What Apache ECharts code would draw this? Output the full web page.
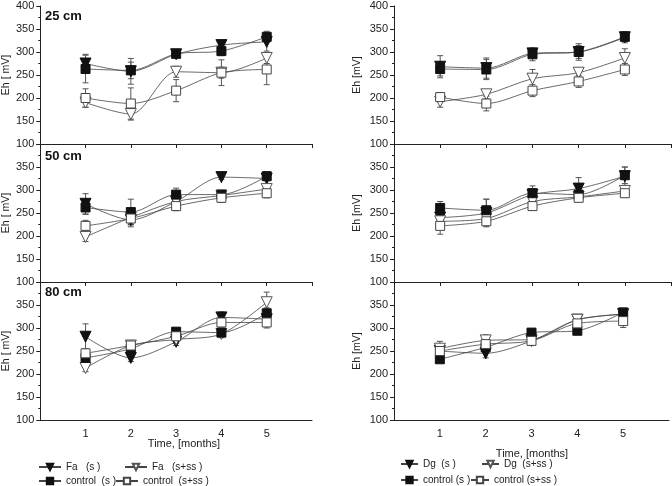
<!DOCTYPE html>
<html><head><meta charset="utf-8">
<script src="https://cdn.jsdelivr.net/npm/echarts@6/dist/echarts.min.js"></script>
<style>html,body{margin:0;padding:0;background:#fff}#c{width:672px;height:486px}</style>
</head><body><div id="c"></div>
<script>
// ---- data ----
const months = [1, 2, 3, 4, 5];
const xTickLabels = ['1', '2', '3', '4', '5'];
const yTickValues = [100, 150, 200, 250, 300, 350, 400];
const depthLabels = ['25 cm', '50 cm', '80 cm'];

// Fa column, 25 cm
const faS25 = [275, 258, 295, 315, 322];
const faS25Err = [20, 28, 6, 8, 20];
const ctrlS25 = [263, 260, 296, 302, 333];
const ctrlS25Err = [30, 18, 8, 10, 12];
const faSS25 = [190, 165, 257, 255, 287];
const faSS25Err = [10, 13, 12, 12, 12];
const ctrlSS25 = [200, 188, 216, 255, 262];
const ctrlSS25Err = [20, 34, 24, 28, 33];
// Dg column, 25 cm
const dgS25 = [268, 265, 297, 300, 332];
const dgS25Err = [24, 22, 8, 18, 12];
const ctrlS25R = [263, 262, 295, 300, 333];
const ctrlS25RErr = [15, 22, 14, 14, 10];
const dgSS25 = [192, 208, 242, 255, 287];
const dgSS25Err = [12, 10, 20, 10, 20];
const ctrlSS25R = [202, 188, 216, 236, 262];
const ctrlSS25RErr = [10, 16, 13, 13, 13];
// Fa column, 50 cm
const faS50 = [270, 235, 275, 328, 325];
const faS50Err = [22, 10, 10, 5, 12];
const ctrlS50 = [262, 252, 290, 290, 330];
const ctrlS50Err = [15, 28, 14, 8, 10];
const faSS50 = [198, 240, 275, 288, 302];
const faSS50Err = [10, 20, 8, 8, 8];
const ctrlSS50 = [222, 238, 265, 283, 293];
const ctrlSS50Err = [12, 12, 10, 10, 10];
// Dg column, 50 cm
const dgS50 = [240, 250, 290, 303, 330];
const dgS50Err = [20, 30, 12, 24, 20];
const ctrlS50R = [261, 256, 293, 290, 332];
const ctrlS50RErr = [14, 24, 16, 10, 18];
const dgSS50 = [232, 238, 275, 285, 298];
const dgSS50Err = [12, 14, 10, 8, 8];
const ctrlSS50R = [222, 232, 265, 283, 293];
const ctrlSS50RErr = [18, 10, 8, 8, 8];
// Fa column, 80 cm
const faS80 = [281, 235, 270, 323, 319];
const faS80Err = [28, 8, 8, 12, 12];
const ctrlS80 = [235, 255, 292, 290, 332];
const ctrlS80Err = [14, 10, 8, 8, 12];
const faSS80 = [213, 262, 275, 287, 356];
const faSS80Err = [8, 8, 8, 8, 22];
const ctrlSS80 = [245, 262, 282, 312, 312];
const ctrlSS80Err = [10, 8, 8, 10, 12];
// Dg column, 80 cm
const dgS80 = [250, 245, 272, 318, 330];
const dgS80Err = [14, 10, 10, 10, 10];
const ctrlS80R = [232, 258, 290, 294, 334];
const ctrlS80RErr = [6, 10, 8, 8, 8];
const dgSS80 = [255, 273, 275, 318, 330];
const dgSS80Err = [16, 12, 8, 10, 8];
const ctrlSS80R = [250, 265, 272, 310, 315];
const ctrlSS80RErr = [10, 10, 8, 8, 14];

// ---- layout / styles ----
const FONT = 'Liberation Sans, Arial, sans-serif';
const colLeft = [38, 394], colWidth = [274, 277];
const rowTop = [6, 144, 282], rowH = 138;

const styles = {
  fTri: {symbol: 'triangle', symbolRotate: 180, symbolSize: 11, itemStyle: {color: '#111', borderColor: '#111', borderWidth: 1}},
  oTri: {symbol: 'triangle', symbolRotate: 180, symbolSize: 11, itemStyle: {color: '#fff', borderColor: '#555', borderWidth: 1}},
  fSq: {symbol: 'rect', symbolSize: 9, itemStyle: {color: '#111', borderColor: '#111', borderWidth: 1}},
  oSq: {symbol: 'rect', symbolSize: 9, itemStyle: {color: '#fff', borderColor: '#444', borderWidth: 1}}
};

const panels = [
  {col: 0, row: 0, s: [['Fa (s)', faS25, faS25Err, 'fTri'], ['Fa (s+ss)', faSS25, faSS25Err, 'oTri'], ['control (s)', ctrlS25, ctrlS25Err, 'fSq'], ['control (s+ss)', ctrlSS25, ctrlSS25Err, 'oSq']]},
  {col: 0, row: 1, s: [['Fa (s)', faS50, faS50Err, 'fTri'], ['Fa (s+ss)', faSS50, faSS50Err, 'oTri'], ['control (s)', ctrlS50, ctrlS50Err, 'fSq'], ['control (s+ss)', ctrlSS50, ctrlSS50Err, 'oSq']]},
  {col: 0, row: 2, s: [['Fa (s)', faS80, faS80Err, 'fTri'], ['Fa (s+ss)', faSS80, faSS80Err, 'oTri'], ['control (s)', ctrlS80, ctrlS80Err, 'fSq'], ['control (s+ss)', ctrlSS80, ctrlSS80Err, 'oSq']]},
  {col: 1, row: 0, s: [['Dg (s)', dgS25, dgS25Err, 'fTri'], ['Dg (s+ss)', dgSS25, dgSS25Err, 'oTri'], ['control (s)', ctrlS25R, ctrlS25RErr, 'fSq'], ['control (s+ss)', ctrlSS25R, ctrlSS25RErr, 'oSq']]},
  {col: 1, row: 1, s: [['Dg (s)', dgS50, dgS50Err, 'fTri'], ['Dg (s+ss)', dgSS50, dgSS50Err, 'oTri'], ['control (s)', ctrlS50R, ctrlS50RErr, 'fSq'], ['control (s+ss)', ctrlSS50R, ctrlSS50RErr, 'oSq']]},
  {col: 1, row: 2, s: [['Dg (s)', dgS80, dgS80Err, 'fTri'], ['Dg (s+ss)', dgSS80, dgSS80Err, 'oTri'], ['control (s)', ctrlS80R, ctrlS80RErr, 'fSq'], ['control (s+ss)', ctrlSS80R, ctrlSS80RErr, 'oSq']]}
];

const grid = [], xAxis = [], yAxis = [], series = [];
panels.forEach((p, i) => {
  grid.push({left: colLeft[p.col], width: colWidth[p.col], top: rowTop[p.row], height: rowH});
  const bottomRow = p.row === 2;
  xAxis.push({
    type: 'value', gridIndex: i, min: 0, max: 6, interval: 1,
    axisLine: {show: true, onZero: false, lineStyle: {color: '#222', width: 1}},
    axisTick: {show: !bottomRow, inside: false, length: 4, lineStyle: {color: '#222'}},
    splitLine: {show: false},
    axisLabel: {show: bottomRow, margin: 8, fontSize: 11, color: '#222', fontFamily: FONT,
      formatter: v => (v >= 1 && v <= 5) ? xTickLabels[v - 1] : ''}
  });
  yAxis.push({
    type: 'value', gridIndex: i, min: yTickValues[0], max: yTickValues[yTickValues.length - 1], interval: 50,
    name: p.col === 0 ? 'Eh [ mV]' : 'Eh [mV]', nameLocation: 'middle', nameGap: p.col === 0 ? 27 : 31,
    nameTextStyle: {fontSize: 10.5, color: '#222', fontFamily: FONT},
    axisLine: {show: true, lineStyle: {color: '#222', width: 1}},
    axisTick: {show: true, length: 4, lineStyle: {color: '#222'}},
    minorTick: {show: true, splitNumber: 2, length: 2, lineStyle: {color: '#222'}},
    splitLine: {show: false},
    axisLabel: {margin: 6, fontSize: 11, color: '#222', fontFamily: FONT, showMaxLabel: p.row === 0}
  });
  // error bars
  const bars = [];
  p.s.forEach(sr => sr[1].forEach((v, k) => bars.push([months[k], v - sr[2][k], v + sr[2][k]])));
  series.push({
    type: 'custom', xAxisIndex: i, yAxisIndex: i, z: 1, silent: true, data: bars,
    renderItem: (params, api) => {
      const x = api.value(0);
      const lo = api.coord([x, api.value(1)]);
      const hi = api.coord([x, api.value(2)]);
      const st = {stroke: '#555', lineWidth: 1};
      return {type: 'group', children: [
        {type: 'line', shape: {x1: lo[0], y1: lo[1], x2: hi[0], y2: hi[1]}, style: st},
        {type: 'line', shape: {x1: lo[0] - 3, y1: lo[1], x2: lo[0] + 3, y2: lo[1]}, style: st},
        {type: 'line', shape: {x1: hi[0] - 3, y1: hi[1], x2: hi[0] + 3, y2: hi[1]}, style: st}
      ]};
    }
  });
  p.s.forEach(sr => {
    const st = styles[sr[3]];
    series.push(Object.assign({
      type: 'line', name: sr[0], xAxisIndex: i, yAxisIndex: i, z: 3,
      smooth: 0.3, showAllSymbol: true,
      data: sr[1].map((v, k) => [months[k], v]),
      lineStyle: {color: '#444', width: 0.8},
      emphasis: {disabled: true}
    }, JSON.parse(JSON.stringify(st))));
  });
});

// legends: [series name, shown text, left, top, icon width]
const legendDefs = [
  ['Fa (s)', 'Fa   (s )', 38, 462, 22],
  ['Fa (s+ss)', 'Fa   (s+ss )', 124, 462, 22],
  ['control (s)', 'control  (s )', 38, 476, 22],
  ['control (s+ss)', 'control  (s+ss )', 115, 476, 22],
  ['Dg (s)', 'Dg  (s )', 400, 459, 17],
  ['Dg (s+ss)', 'Dg  (s+ss )', 481, 459, 17],
  ['control (s)', 'control (s )', 400, 475, 17],
  ['control (s+ss)', 'control (s+ss )', 470, 475, 18]
];
const legend = legendDefs.map(d => ({
  data: [d[0]], left: d[2], top: d[3], padding: 0, itemWidth: d[4], itemHeight: 8, itemGap: 0,
  selectedMode: false, formatter: () => d[1],
  textStyle: {fontSize: 10, color: '#222', fontFamily: FONT}
}));

const graphic = [
  {type: 'text', left: 45, top: 10, style: {text: depthLabels[0], font: 'bold 13px ' + FONT, fill: '#111'}},
  {type: 'text', left: 45, top: 150, style: {text: depthLabels[1], font: 'bold 13px ' + FONT, fill: '#111'}},
  {type: 'text', left: 45, top: 286, style: {text: depthLabels[2], font: 'bold 13px ' + FONT, fill: '#111'}},
  {type: 'text', x: 184, y: 444, style: {text: 'Time, [months]', font: '11px ' + FONT, fill: '#222', textAlign: 'center', textVerticalAlign: 'middle'}},
  {type: 'text', x: 532, y: 454, style: {text: 'Time, [months]', font: '11px ' + FONT, fill: '#222', textAlign: 'center', textVerticalAlign: 'middle'}}
];

const chart = echarts.init(document.getElementById('c'), null, {renderer: 'canvas'});
chart.setOption({animation: false, backgroundColor: '#fff', grid, xAxis, yAxis, series, legend, graphic});
</script>
</body></html>
